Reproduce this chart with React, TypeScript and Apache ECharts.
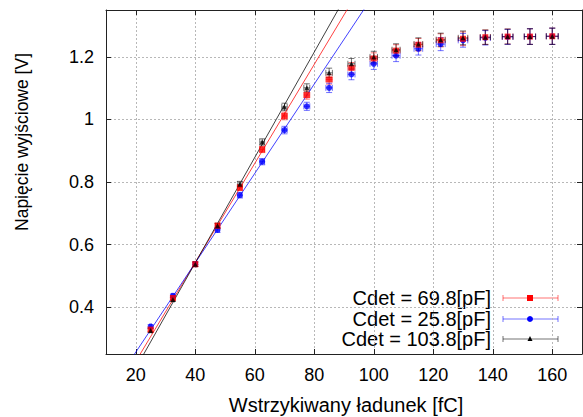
import React, { useEffect, useRef } from "react";
import * as echarts from "echarts";

// Injected charge [fC]
const charges = [25, 32.5, 40, 47.5, 55, 62.5, 70, 77.5, 85, 92.5, 100, 107.5, 115, 122.5, 130, 137.5, 145, 152.5, 160];
// Output voltage [V]
const v69 = [0.328, 0.429, 0.537, 0.66, 0.782, 0.904, 1.011, 1.078, 1.128, 1.165, 1.195, 1.22, 1.239, 1.253, 1.258, 1.263, 1.265, 1.265, 1.266];
const v25 = [0.338, 0.436, 0.537, 0.647, 0.758, 0.865, 0.966, 1.042, 1.101, 1.144, 1.178, 1.204, 1.226, 1.241, 1.253, 1.261, 1.264, 1.265, 1.266];
const v103 = [0.325, 0.424, 0.537, 0.66, 0.793, 0.928, 1.04, 1.101, 1.149, 1.178, 1.2, 1.223, 1.241, 1.255, 1.261, 1.263, 1.265, 1.265, 1.266];
// Error bars
const xErr = [0.3, 0.4, 0.5, 0.6, 0.7, 0.8, 0.9, 1.0, 1.1, 1.2, 1.25, 1.35, 1.45, 1.5, 1.6, 1.7, 1.8, 1.9, 2.0];
const yErr = [0.006, 0.006, 0.007, 0.008, 0.009, 0.01, 0.012, 0.013, 0.015, 0.017, 0.018, 0.019, 0.02, 0.021, 0.022, 0.023, 0.024, 0.025, 0.026];

const seriesNames = ["Cdet = 69.8[pF]", "Cdet = 25.8[pF]", "Cdet = 103.8[pF]"];
const seriesValues = [v69, v25, v103];
const seriesColors = ["#ff0000", "#0000ff", "#000000"];
const seriesSymbols = ["rect", "circle", "triangle"];
const symbolSizes = [6, 6, 5];
const markerZ = [5, 4, 6];
// linear fits V = slope * Q + intercept
const fitSlopes = [0.01583, 0.01429, 0.01685];
const fitIntercepts = [-0.0903, -0.0301, -0.1325];

const xTicks = [20, 40, 60, 80, 100, 120, 140, 160];
const yTicks = [0.4, 0.6, 0.8, 1.0, 1.2];
const X_MIN = 10, X_MAX = 170, Y_MIN = 0.25, Y_MAX = 1.35;

const FONT = "Liberation Sans";

export default function App() {
  const ref = useRef<HTMLDivElement>(null);
  useEffect(() => {
    document.body.style.margin = "0";
    const chart = echarts.init(ref.current!, null, { renderer: "svg" });

    const series: any[] = [];
    seriesValues.forEach((vals, i) => {
      const color = seriesColors[i];
      series.push({
        type: "custom",
        name: seriesNames[i] + " err",
        z: 2,
        clip: true,
        data: charges.map((q, k) => [q, vals[k], xErr[k], yErr[k]]),
        encode: { x: 0, y: 1 },
        renderItem: (params: any, api: any) => {
          const x = api.value(0), y = api.value(1), xe = api.value(2), ye = api.value(3);
          const c = api.coord([x, y]);
          const l = api.coord([x - xe, y]);
          const r = api.coord([x + xe, y]);
          const t = api.coord([x, y + ye]);
          const b = api.coord([x, y - ye]);
          const cap = 3;
          const style = { stroke: color, lineWidth: 1, opacity: 0.55 };
          const mk = (x1: number, y1: number, x2: number, y2: number) => ({
            type: "line",
            shape: { x1, y1, x2, y2 },
            style,
          });
          return {
            type: "group",
            children: [
              mk(l[0], c[1], r[0], c[1]),
              mk(l[0], c[1] - cap, l[0], c[1] + cap),
              mk(r[0], c[1] - cap, r[0], c[1] + cap),
              mk(c[0], t[1], c[0], b[1]),
              mk(c[0] - cap, t[1], c[0] + cap, t[1]),
              mk(c[0] - cap, b[1], c[0] + cap, b[1]),
            ],
          };
        },
      });
      series.push({
        type: "line",
        name: seriesNames[i] + " fit",
        z: 3,
        clip: true,
        symbol: "none",
        silent: true,
        lineStyle: { color, width: 1, opacity: 0.75 },
        data: [X_MIN, X_MAX].map((q) => [q, fitSlopes[i] * q + fitIntercepts[i]]),
      });
      series.push({
        type: "scatter",
        name: seriesNames[i],
        z: markerZ[i],
        symbol: seriesSymbols[i],
        symbolSize: symbolSizes[i],
        itemStyle: { color },
        data: charges.map((q, k) => [q, vals[k]]),
      });
    });

    const axisLine = { show: true, lineStyle: { color: "#222", width: 1 } };
    const tickStyle = { inside: true, length: 5, lineStyle: { color: "#222" } };

    // legend graphics
    const legendRows = [298, 319, 339];
    const lx1 = 503, lx2 = 558, lmx = 530;
    const legendChildren: any[] = [
      { type: "rect", shape: { x: 345, y: 284, width: 227, height: 64 }, style: { fill: "#fff" } },
    ];
    seriesNames.forEach((name, i) => {
      const y = legendRows[i];
      const color = seriesColors[i];
      legendChildren.push({
        type: "text",
        x: 491,
        y,
        style: { text: name, fill: "#000", font: `20px '${FONT}'`, align: "right", verticalAlign: "middle" },
      });
      const ls = { stroke: color, lineWidth: 1, opacity: 0.55 };
      legendChildren.push({ type: "line", shape: { x1: lx1, y1: y, x2: lx2, y2: y }, style: ls });
      legendChildren.push({ type: "line", shape: { x1: lx1, y1: y - 3, x2: lx1, y2: y + 3 }, style: ls });
      legendChildren.push({ type: "line", shape: { x1: lx2, y1: y - 3, x2: lx2, y2: y + 3 }, style: ls });
      if (seriesSymbols[i] === "rect") {
        legendChildren.push({ type: "rect", shape: { x: lmx - 3, y: y - 3, width: 6, height: 6 }, style: { fill: color } });
      } else if (seriesSymbols[i] === "circle") {
        legendChildren.push({ type: "circle", shape: { cx: lmx, cy: y, r: 3 }, style: { fill: color } });
      } else {
        legendChildren.push({
          type: "polygon",
          shape: { points: [[lmx, y - 3], [lmx + 2.5, y + 2], [lmx - 2.5, y + 2]] },
          style: { fill: color },
        });
      }
    });

    chart.setOption({
      animation: false,
      backgroundColor: "#fff",
      textStyle: { fontFamily: FONT },
      grid: { left: 106, right: 1, top: 10, bottom: 63, containLabel: false },
      xAxis: [
        {
          type: "value",
          min: X_MIN,
          max: X_MAX,
          position: "bottom",
          axisLine,
          axisTick: { ...tickStyle, customValues: xTicks },
          axisLabel: { customValues: xTicks, color: "#000", fontSize: 18, margin: 12, fontFamily: FONT },
          splitLine: { show: true, lineStyle: { color: "#b8b8b8", type: [2, 2], width: 1 } },
        },
        {
          type: "value",
          min: X_MIN,
          max: X_MAX,
          position: "top",
          axisLine,
          axisTick: { ...tickStyle, customValues: xTicks },
          axisLabel: { show: false },
          splitLine: { show: false },
        },
      ],
      yAxis: [
        {
          type: "value",
          min: Y_MIN,
          max: Y_MAX,
          position: "left",
          axisLine,
          axisTick: { ...tickStyle, customValues: yTicks },
          axisLabel: { customValues: yTicks, color: "#000", fontSize: 18, margin: 12, fontFamily: FONT },
          splitLine: { show: true, lineStyle: { color: "#b8b8b8", type: [2, 2], width: 1 } },
        },
        {
          type: "value",
          min: Y_MIN,
          max: Y_MAX,
          position: "right",
          axisLine,
          axisTick: { ...tickStyle, customValues: yTicks },
          axisLabel: { show: false },
          splitLine: { show: false },
        },
      ],
      graphic: [
        {
          type: "text",
          x: 346,
          y: 405,
          style: {
            text: "Wstrzykiwany ładunek [fC]",
            fill: "#000",
            font: `20px '${FONT}'`,
            align: "center",
            verticalAlign: "middle",
          },
        },
        {
          type: "text",
          x: 22,
          y: 142,
          rotation: Math.PI / 2,
          style: {
            text: "Napięcie wyjściowe [V]",
            fill: "#000",
            font: `17.5px '${FONT}'`,
            align: "center",
            verticalAlign: "middle",
          },
        },
        { type: "group", z: 100, children: legendChildren },
      ],
      series,
    });
    return () => chart.dispose();
  }, []);
  return <div ref={ref} style={{ width: 583, height: 417 }} />;
}
